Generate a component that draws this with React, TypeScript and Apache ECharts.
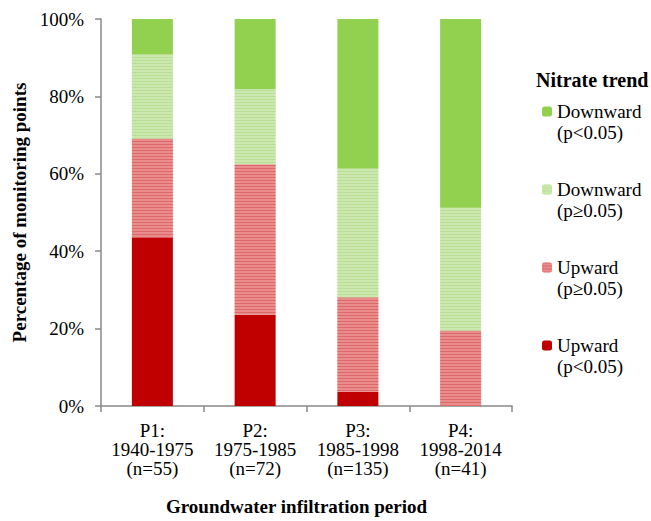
import React, { useEffect, useRef } from "react";
import * as echarts from "echarts";

const categories = ["P1:\n1940-1975\n(n=55)", "P2:\n1975-1985\n(n=72)", "P3:\n1985-1998\n(n=135)", "P4:\n1998-2014\n(n=41)"];
const upwardSig = [43.6, 23.6, 3.7, 0];
const upwardNs = [25.5, 38.9, 24.4, 19.5];
const downwardNs = [21.8, 19.4, 33.3, 31.7];
const downwardSig = [9.1, 18.1, 38.6, 48.8];
const yTicks = { min: 0, max: 100, interval: 20 };

const FONT = "'Liberation Serif', 'Times New Roman', serif";

export default function App() {
  const ref = useRef<HTMLDivElement>(null);
  useEffect(() => {
    if (!ref.current) return;
    const chart = echarts.init(ref.current, null, { renderer: "svg" });
    const stripe = (base: string, line: string) => ({
      color: base,
      decal: {
        symbol: "rect",
        symbolSize: 1,
        dashArrayX: [[1, 0]],
        dashArrayY: [1, 2],
        rotation: 0,
        color: line,
      },
    });
    const names = [
      "Upward (p<0.05)",
      "Upward (p≥0.05)",
      "Downward (p≥0.05)",
      "Downward (p<0.05)",
    ];
    const legendText: Record<string, string> = {
      "Upward (p<0.05)": "\nUpward\n(p<0.05)",
      "Upward (p≥0.05)": "\nUpward\n(p≥0.05)",
      "Downward (p≥0.05)": "\nDownward\n(p≥0.05)",
      "Downward (p<0.05)": "\nDownward\n(p<0.05)",
    };
    chart.setOption({
      animation: false,
      backgroundColor: "#ffffff",
      textStyle: { fontFamily: FONT },
      title: {
        text: "Nitrate trend",
        left: 536,
        top: 70,
        padding: 0,
        textStyle: { fontFamily: FONT, fontWeight: "bold", fontSize: 20, color: "#000" },
      },
      legend: {
        orient: "vertical",
        left: 542,
        top: 80,
        padding: 0,
        itemWidth: 10,
        itemHeight: 10,
        itemGap: 15,
        selectedMode: false,
        data: [names[3], names[2], names[1], names[0]],
        formatter: (n: string) => legendText[n] || n,
        textStyle: { fontFamily: FONT, fontSize: 19, lineHeight: 21, color: "#000" },
      },
      grid: { left: 101, right: 139, top: 19, bottom: 111, containLabel: false },
      xAxis: {
        type: "category",
        data: categories,
        name: "Groundwater infiltration period",
        nameLocation: "middle",
        nameGap: 91,
        nameTextStyle: {
          fontFamily: FONT,
          fontWeight: "bold",
          fontSize: 19,
          color: "#000",
          padding: [0, 20, 0, 0],
        },
        axisLine: { lineStyle: { color: "#888888", width: 1.5 } },
        axisTick: { show: true, length: 6, lineStyle: { color: "#888888", width: 1.5 } },
        axisLabel: {
          interval: 0,
          margin: 15,
          fontFamily: FONT,
          fontSize: 19,
          lineHeight: 19,
          color: "#000",
        },
      },
      yAxis: {
        type: "value",
        min: yTicks.min,
        max: yTicks.max,
        interval: yTicks.interval,
        name: "Percentage of monitoring points",
        nameLocation: "middle",
        nameRotate: 90,
        nameGap: 62,
        nameTextStyle: { fontFamily: FONT, fontWeight: "bold", fontSize: 19, color: "#000" },
        axisLine: { show: true, lineStyle: { color: "#888888", width: 1.5 } },
        axisTick: { show: true, length: 6, lineStyle: { color: "#888888", width: 1.5 } },
        splitLine: { show: false },
        axisLabel: {
          margin: 17,
          formatter: "{value}%",
          fontFamily: FONT,
          fontSize: 19,
          color: "#000",
        },
      },
      series: [
        {
          name: names[0],
          type: "bar",
          stack: "total",
          barWidth: 41,
          data: upwardSig,
          itemStyle: { color: "#C00000" },
        },
        {
          name: names[1],
          type: "bar",
          stack: "total",
          barWidth: 41,
          data: upwardNs,
          itemStyle: stripe("#EB8C8C", "#DC6A6A"),
        },
        {
          name: names[2],
          type: "bar",
          stack: "total",
          barWidth: 41,
          data: downwardNs,
          itemStyle: stripe("#CBE8AE", "#B9DE96"),
        },
        {
          name: names[3],
          type: "bar",
          stack: "total",
          barWidth: 41,
          data: downwardSig,
          itemStyle: { color: "#92D050" },
        },
      ],
    });
    return () => chart.dispose();
  }, []);
  return (
    <div
      ref={ref}
      style={{ position: "absolute", left: 0, top: 0, width: 651, height: 521 }}
    />
  );
}
